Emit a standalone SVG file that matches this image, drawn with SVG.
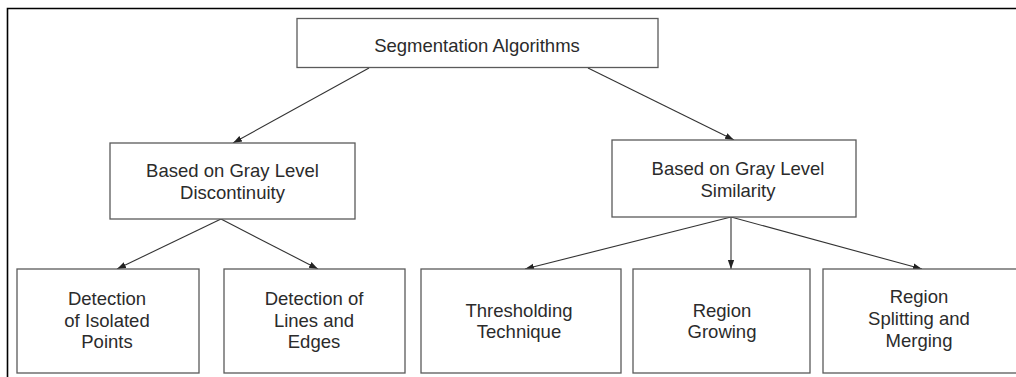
<svg xmlns="http://www.w3.org/2000/svg" width="1016" height="377" viewBox="0 0 1016 377">
  <style>
    .box { fill: #ffffff; stroke: #5a5a5a; stroke-width: 1.3; }
    .lbl { font-family: "Liberation Sans", Arial, sans-serif; font-size: 18.5px; fill: #2b2b2b; text-anchor: middle; }
    .edge { stroke: #333333; stroke-width: 1.1; fill: none; marker-end: url(#arrow); }
    .frame { stroke: #000000; stroke-width: 1.6; fill: none; }
  </style>
  <defs>
    <marker id="arrow" viewBox="0 0 10 10" refX="10" refY="5" markerWidth="9" markerHeight="9" markerUnits="userSpaceOnUse" orient="auto">
      <path d="M0,1.5 L10,5 L0,8.5 Z" fill="#222222"/>
    </marker>
  </defs>

  <rect x="0" y="0" width="1016" height="377" fill="#ffffff"/>

  <!-- outer frame -->
  <path class="frame" d="M7.5,377 L7.5,8.5 L1016,8.5"/>

  <!-- connectors -->
  <g id="connectors">
    <line class="edge" x1="369" y1="68" x2="233" y2="143"/>
    <line class="edge" x1="588" y1="68" x2="734" y2="140"/>
    <line class="edge" x1="221" y1="219" x2="117" y2="269"/>
    <line class="edge" x1="221" y1="219" x2="318" y2="269"/>
    <line class="edge" x1="731" y1="217" x2="525" y2="269"/>
    <line class="edge" x1="731" y1="217" x2="731" y2="269"/>
    <line class="edge" x1="731" y1="217" x2="922" y2="269"/>
  </g>

  <g id="root">
    <rect class="box" x="297" y="18.5" width="361" height="49"/>
    <text class="lbl" x="477" y="51.5">Segmentation Algorithms</text>
  </g>

  <g id="discontinuity">
    <rect class="box" x="110" y="143" width="245" height="76"/>
    <text class="lbl" x="232.5" y="177">Based on Gray Level</text>
    <text class="lbl" x="232.5" y="199">Discontinuity</text>
  </g>

  <g id="similarity">
    <rect class="box" x="612" y="140" width="244" height="77"/>
    <text class="lbl" x="738" y="175">Based on Gray Level</text>
    <text class="lbl" x="738" y="197">Similarity</text>
  </g>

  <g id="isolated-points">
    <rect class="box" x="17" y="269" width="182" height="104"/>
    <text class="lbl" x="107" y="305">Detection</text>
    <text class="lbl" x="107" y="327">of Isolated</text>
    <text class="lbl" x="107" y="348">Points</text>
  </g>

  <g id="lines-edges">
    <rect class="box" x="224" y="269" width="181" height="104"/>
    <text class="lbl" x="314" y="305">Detection of</text>
    <text class="lbl" x="314" y="327">Lines and</text>
    <text class="lbl" x="314" y="348">Edges</text>
  </g>

  <g id="thresholding">
    <rect class="box" x="421" y="269" width="200" height="104"/>
    <text class="lbl" x="519" y="317">Thresholding</text>
    <text class="lbl" x="519" y="338">Technique</text>
  </g>

  <g id="region-growing">
    <rect class="box" x="633" y="269" width="177" height="104"/>
    <text class="lbl" x="722" y="317">Region</text>
    <text class="lbl" x="722" y="338">Growing</text>
  </g>

  <g id="split-merge">
    <rect class="box" x="823" y="269" width="220" height="104"/>
    <text class="lbl" x="919" y="303">Region</text>
    <text class="lbl" x="919" y="325">Splitting and</text>
    <text class="lbl" x="919" y="347">Merging</text>
  </g>
</svg>
